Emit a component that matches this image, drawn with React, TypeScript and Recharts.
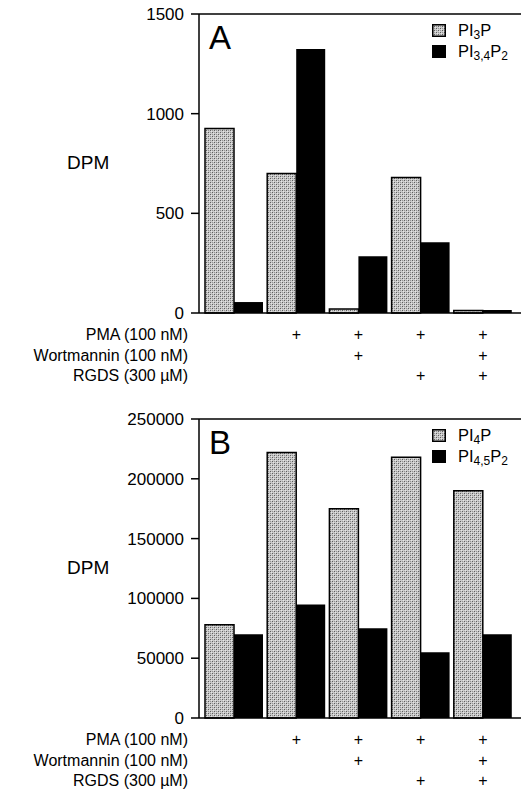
import React from "react";
import {
  Bar,
  BarChart,
  Legend,
  ReferenceLine,
  XAxis,
  YAxis,
} from "recharts";

// treatment conditions, one per group of bars
const conditions = ["ctrl", "pma", "pma+wort", "pma+rgds", "pma+wort+rgds"];
const pma = [false, true, true, true, true];
const wortmannin = [false, false, true, false, true];
const rgds = [false, false, false, true, true];
const rowLabels = ["PMA (100 nM)", "Wortmannin (100 nM)", "RGDS (300 µM)"];

// panel A: 3-phosphoinositides (DPM)
const pi3p = [925, 700, 20, 680, 12];
const pi34p2 = [55, 1325, 285, 355, 15];
const ticksA = [0, 500, 1000, 1500];

// panel B: 4-phosphoinositides (DPM)
const pi4p = [78000, 222000, 175000, 218000, 190000];
const pi45p2 = [70000, 95000, 75000, 55000, 70000];
const ticksB = [0, 50000, 100000, 150000, 200000, 250000];

const FONT = "'Liberation Sans', Arial, Helvetica, sans-serif";
const GRAY = "url(#dotfill)";

function ConditionTick(props: any) {
  const { x, y, payload } = props;
  const i = payload.index;
  const flags = [pma[i], wortmannin[i], rgds[i]];
  return (
    <g fontFamily={FONT} fontSize={16} fill="#000">
      {flags.map((on, r) =>
        on ? (
          <text key={r} x={x} y={y + 19 + r * 20.5} textAnchor="middle">
            +
          </text>
        ) : null
      )}
      {i === 0 &&
        rowLabels.map((t, r) => (
          <text key={"l" + r} x={188} y={y + 19 + r * 20.5} textAnchor="end">
            {t}
          </text>
        ))}
    </g>
  );
}

function Swatch({ fill }: { fill: string }) {
  return (
    <svg width={14} height={13} style={{ marginRight: 12, flex: "none" }}>
      <rect
        x={0.75}
        y={0.75}
        width={12.5}
        height={11.5}
        fill={fill}
        stroke="#000"
        strokeWidth={1.5}
      />
    </svg>
  );
}

function Panel(props: {
  letter: string;
  top: number;
  height: number;
  xHeight: number;
  max: number;
  ticks: number[];
  first: number[];
  second: number[];
  names: [React.ReactNode, React.ReactNode];
}) {
  const rows = conditions.map((c, i) => ({
    cond: c,
    a: props.first[i],
    b: props.second[i],
  }));
  const legend = () => (
    <div style={{ fontFamily: FONT, fontSize: 16.5, lineHeight: "21px" }}>
      <div style={{ display: "flex", alignItems: "center", height: 21 }}>
        <Swatch fill={GRAY} />
        <span>{props.names[0]}</span>
      </div>
      <div style={{ display: "flex", alignItems: "center", height: 21 }}>
        <Swatch fill="#000" />
        <span>{props.names[1]}</span>
      </div>
    </div>
  );
  return (
    <div
      style={{
        position: "absolute",
        left: 0,
        top: props.top,
        width: 521,
        height: props.height,
      }}
    >
      <BarChart
        width={521}
        height={props.height}
        data={rows}
        margin={{ top: 14, right: 0, left: 139, bottom: 0 }}
        barSize={29}
        barGap={0}
      >
        <XAxis
          dataKey="cond"
          interval={0}
          height={props.xHeight}
          tickLine={false}
          axisLine={{ stroke: "#000", strokeWidth: 1.5 }}
          padding={{ left: 4, right: 7 }}
          tick={<ConditionTick />}
        />
        <YAxis
          domain={[0, props.max]}
          ticks={props.ticks}
          width={60}
          tickSize={8}
          tickMargin={7}
          axisLine={{ stroke: "#000", strokeWidth: 1.5 }}
          tickLine={{ stroke: "#000", strokeWidth: 1.5 }}
          tick={{ fill: "#000", fontSize: 17, fontFamily: FONT }}
        />
        <ReferenceLine y={props.max} stroke="#000" strokeWidth={1.5} />
        <Legend
          layout="horizontal"
          verticalAlign="middle"
          align="center"
          content={legend}
          wrapperStyle={{ top: 20, left: 432, width: 89 }}
        />
        <Bar
          dataKey="a"
          fill={GRAY}
          stroke="#000"
          strokeWidth={1.5}
          isAnimationActive={false}
        />
        <Bar dataKey="b" fill="#000" isAnimationActive={false} />
      </BarChart>
      <div
        style={{
          position: "absolute",
          left: 209,
          top: 20,
          fontFamily: FONT,
          fontSize: 33,
          lineHeight: "36px",
        }}
      >
        {props.letter}
      </div>
      <div
        style={{
          position: "absolute",
          left: 67,
          top: 14 + 149 - 12,
          fontFamily: FONT,
          fontSize: 19,
          lineHeight: "24px",
        }}
      >
        DPM
      </div>
    </div>
  );
}

const sub = (s: string) => (
  <sub
    style={{
      fontSize: 12,
      verticalAlign: "baseline",
      position: "relative",
      top: 3,
      lineHeight: 0,
    }}
  >
    {s}
  </sub>
);

export default function App() {
  return (
    <div
      style={{
        position: "absolute",
        left: 0,
        top: 0,
        width: 521,
        height: 790,
        background: "#fff",
      }}
    >
      <svg width={0} height={0} style={{ position: "absolute" }}>
        <defs>
          <pattern
            id="dotfill"
            width={4}
            height={4}
            patternUnits="userSpaceOnUse"
          >
            <rect width={4} height={4} fill="#cacaca" />
            <rect x={0} y={0} width={1} height={1} fill="#5e5e5e" />
            <rect x={2} y={2} width={1} height={1} fill="#5e5e5e" />
            <rect x={2} y={0} width={1} height={1} fill="#959595" />
            <rect x={0} y={2} width={1} height={1} fill="#959595" />
            <rect x={1} y={1} width={1} height={1} fill="#e4e4e4" />
            <rect x={3} y={3} width={1} height={1} fill="#e4e4e4" />
          </pattern>
        </defs>
      </svg>
      <Panel
        letter="A"
        top={0}
        height={393}
        xHeight={80}
        max={1500}
        ticks={ticksA}
        first={pi3p}
        second={pi34p2}
        names={[
          <>PI{sub("3")}P</>,
          <>PI{sub("3,4")}P{sub("2")}</>,
        ]}
      />
      <Panel
        letter="B"
        top={405}
        height={385}
        xHeight={72}
        max={250000}
        ticks={ticksB}
        first={pi4p}
        second={pi45p2}
        names={[
          <>PI{sub("4")}P</>,
          <>PI{sub("4,5")}P{sub("2")}</>,
        ]}
      />
    </div>
  );
}
